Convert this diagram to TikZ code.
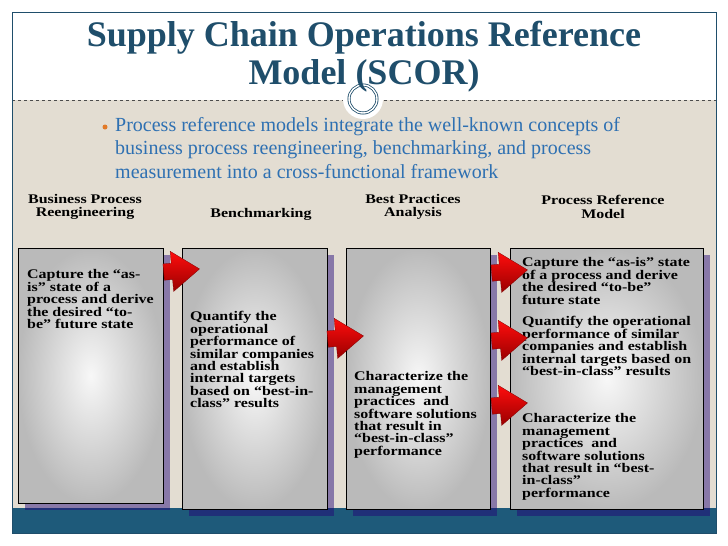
\documentclass[tikz,border=0pt]{standalone}
\usepackage{fontspec}
\setmainfont{Liberation Serif}
\newfontfamily\widefont[FakeStretch=1.21]{Liberation Serif}
\usetikzlibrary{shapes.arrows}

\definecolor{scortitle}{RGB}{31,78,107}
\definecolor{scortext}{RGB}{46,112,178}
\definecolor{scorbullet}{RGB}{226,122,40}
\definecolor{scorbeige}{RGB}{227,221,210}
\definecolor{scorband}{RGB}{30,90,122}
\definecolor{shadowpurple}{RGB}{136,120,168}
\definecolor{shadownavy}{RGB}{32,48,120}

\begin{document}
\begin{tikzpicture}[
  x=1pt, y=-1pt,
  box/.style={draw=black, line width=0.6pt, inner color=black!3, outer color=black!27, anchor=north west},
  boxtext/.style={anchor=north west, inner sep=0pt, align=left, font=\widefont\bfseries\fontsize{13.2}{12.4}\selectfont},
  head/.style={align=center, inner sep=0pt, font=\widefont\bfseries\fontsize{13.2}{13.5}\selectfont},
  redarrow/.style={single arrow, minimum height=36pt, single arrow head extend=12pt, single arrow tip angle=72,
    inner xsep=0pt, inner ysep=8pt, rotate=5, top color=red!95!white, bottom color=red!60!black,
    draw=red!50!black, line width=0.3pt}
]
  \useasboundingbox (0,0) rectangle (728,546);

  % --- Slide background ---
  \fill[scorbeige] (12,100) rectangle (716,508);
  \draw[black!70, dashed, line width=0.5pt] (12,100) -- (716,100);
  \fill[scorband] (12,508) rectangle (716,533);
  \draw[scortitle, line width=0.8pt] (12,12) rectangle (716,533);
  \fill[white] (363,99) circle (20);
  \node[circle, draw=scortitle, double=white, double distance=1.4pt, line width=0.8pt,
    fill=white, minimum size=28pt] (ring) at (363,99) {};

  % --- Title and bullet ---
  \node[align=center, text=scortitle, font=\bfseries\fontsize{36}{38}\selectfont] (title) at (364,57)
    {Supply Chain Operations Reference\\Model (SCOR)};
  \node[circle, fill=scorbullet, inner sep=0pt, minimum size=5pt] (dot) at (105,127) {};
  \node[anchor=north west, inner sep=0pt, align=left, text=scortext, font=\fontsize{20}{23.5}\selectfont] (intro) at (115,117)
    {Process reference models integrate the well-known concepts of\\
     business process reengineering, benchmarking, and process\\
     measurement into a cross-functional framework};

  % --- Column headings ---
  \node[head] (h1) at (85,207) {Business Process\\Reengineering};
  \node[head] (h2) at (261,214) {Benchmarking};
  \node[head] (h3) at (413,207) {Best Practices\\Analysis};
  \node[head] (h4) at (603,207) {Process Reference\\Model};

  % --- Shadows ---
  \fill[shadowpurple] (25,255) rectangle (170,510);
  \fill[shadowpurple] (189,255) rectangle (334,516);
  \fill[shadowpurple] (353,255) rectangle (497,516);
  \fill[shadowpurple] (517,255) rectangle (710,516);
  \begin{scope}
    \clip (12,508) rectangle (716,533);
    \fill[shadownavy] (25,255) rectangle (170,510);
    \fill[shadownavy] (189,255) rectangle (334,516);
    \fill[shadownavy] (353,255) rectangle (497,516);
    \fill[shadownavy] (517,255) rectangle (710,516);
  \end{scope}

  % --- Boxes ---
  \node[box, minimum width=145pt, minimum height=255pt] (b1) at (18,248) {};
  \node[box, minimum width=145pt, minimum height=261pt] (b2) at (182,248) {};
  \node[box, minimum width=144pt, minimum height=261pt] (b3) at (346,248) {};
  \node[box, minimum width=193pt, minimum height=261pt] (b4) at (510,248) {};

  \node[boxtext] (t1) at (27,269.5)
    {Capture the “as-\\is” state of a\\process and derive\\the desired “to-\\be” future state};
  \node[boxtext] (t2) at (190,311.5)
    {Quantify the\\operational\\performance of\\similar companies\\and establish\\internal targets\\based on “best-in-\\class” results};
  \node[boxtext] (t3) at (354,371.5)
    {Characterize the\\management\\practices\ \ and\\software solutions\\that result in\\“best-in-class”\\performance};
  \node[boxtext] (t4a) at (522,257.5)
    {Capture the “as-is” state\\of a process and derive\\the desired “to-be”\\future state};
  \node[boxtext] (t4b) at (522,316.5)
    {Quantify the operational\\performance of similar\\companies and establish\\internal targets based on\\“best-in-class” results};
  \node[boxtext] (t4c) at (522,413.5)
    {Characterize the\\management\\practices\ \ and\\software solutions\\that result in “best-\\in-class”\\performance};

  % --- Red arrows ---
  \node[redarrow] (a1) at (176,271) {};
  \node[redarrow] (a2) at (340,338) {};
  \node[redarrow] (a3) at (504,272) {};
  \node[redarrow] (a4) at (504,340) {};
  \node[redarrow] (a5) at (504,405) {};

\end{tikzpicture}
\end{document}
